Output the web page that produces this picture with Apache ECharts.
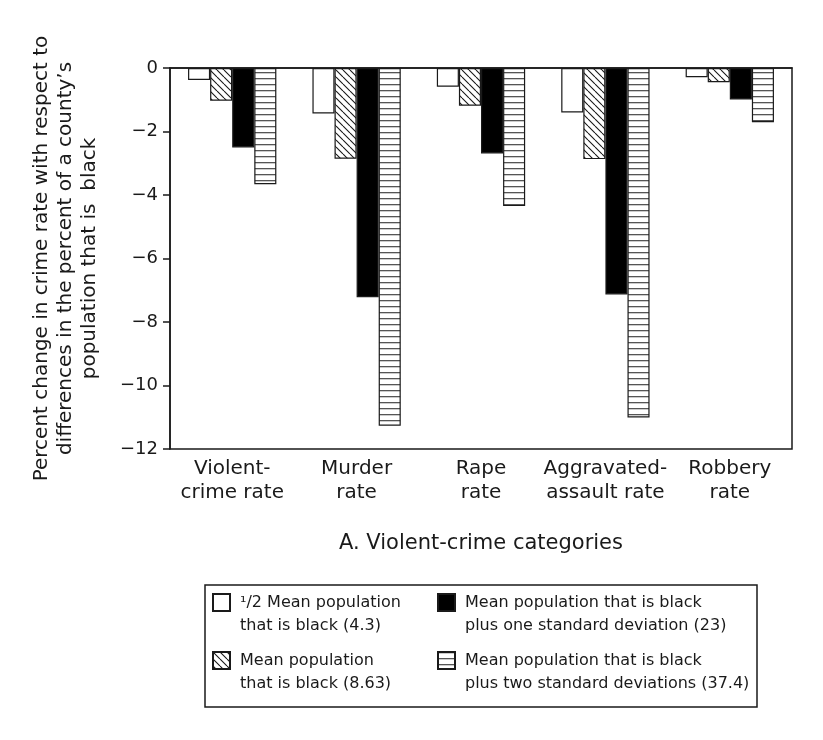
<!DOCTYPE html>
<html>
<head>
<meta charset="utf-8">
<script src="https://cdn.jsdelivr.net/npm/echarts@6/dist/echarts.min.js"></script>
<style>
  html, body { margin: 0; padding: 0; background: #fff; }
  #main { width: 823px; height: 740px; }
</style>
</head>
<body>
<div id="main"></div>
<script>
// categories along the x axis
const categories = [
    'Violent-\ncrime rate',
    'Murder\nrate',
    'Rape\nrate',
    'Aggravated-\nassault rate',
    'Robbery\nrate'
];

// legend names for the four series
const seriesNames = [
    '¹/2 Mean population\nthat is black (4.3)',
    'Mean population\nthat is black (8.63)',
    'Mean population that is black\nplus one standard deviation (23)',
    'Mean population that is black\nplus two standard deviations (37.4)'
];

// percent change values
const halfMean = [-0.38, -1.43, -0.59, -1.40, -0.29];
const meanPop = [-1.03, -2.86, -1.19, -2.87, -0.45];
const plusOneSd = [-2.50, -7.22, -2.69, -7.13, -0.99];
const plusTwoSd = [-3.66, -11.27, -4.35, -11.01, -1.71];

// y axis ticks
const yMin = -12;
const yMax = 0;
const yStep = 2;

const font = 'DejaVu Sans';
const ink = '#1a1a1a';

// hatch fills
function diagonalPattern() {
    const s = 7;
    const c = document.createElement('canvas');
    c.width = s; c.height = s;
    const ctx = c.getContext('2d');
    ctx.fillStyle = '#fff';
    ctx.fillRect(0, 0, s, s);
    ctx.strokeStyle = ink;
    ctx.lineWidth = 1.1;
    ctx.beginPath();
    ctx.moveTo(0, 0); ctx.lineTo(s, s);
    ctx.moveTo(-s, 0); ctx.lineTo(0, s);
    ctx.moveTo(s, 0); ctx.lineTo(2 * s, s);
    ctx.stroke();
    return { image: c, repeat: 'repeat' };
}

function stripePattern() {
    const s = 6;
    const c = document.createElement('canvas');
    c.width = s; c.height = s;
    const ctx = c.getContext('2d');
    ctx.fillStyle = '#fff';
    ctx.fillRect(0, 0, s, s);
    ctx.fillStyle = '#555';
    ctx.fillRect(0, 0, s, 1.3);
    return { image: c, repeat: 'repeat' };
}

const fills = ['#ffffff', diagonalPattern(), '#000000', stripePattern()];
const values = [halfMean, meanPop, plusOneSd, plusTwoSd];

let myChart = echarts.init(document.getElementById('main'));

// legend text sits level with the icon on its first line
function legendBlock(names, left) {
    return {
        data: names,
        orient: 'vertical',
        left: left,
        top: 568,
        padding: 0,
        itemGap: -11,
        itemWidth: 17,
        itemHeight: 17,
        icon: 'rect',
        selectedMode: false,
        formatter: function (name) {
            return '\n' + name;
        },
        textStyle: {
            fontFamily: font,
            fontSize: 16,
            color: ink,
            lineHeight: 23,
            padding: [0, 0, 0, 5]
        }
    };
}

myChart.setOption({
    animation: false,
    textStyle: { fontFamily: font, color: ink },
    grid: {
        left: 170,
        right: 31,
        top: 68,
        bottom: 291,
        show: true,
        borderColor: ink,
        borderWidth: 1.5
    },
    xAxis: {
        type: 'category',
        data: categories,
        name: 'A. Violent-crime categories',
        nameLocation: 'middle',
        nameGap: 84,
        nameTextStyle: { fontSize: 21, color: ink },
        axisLine: { lineStyle: { color: ink, width: 1.5 } },
        axisTick: { length: 12, lineStyle: { color: ink, width: 1.5 } },
        axisLabel: {
            interval: 0,
            fontSize: 20,
            lineHeight: 24,
            color: ink,
            margin: 8
        }
    },
    yAxis: {
        type: 'value',
        min: yMin,
        max: yMax,
        interval: yStep,
        name: 'Percent change in crime rate with respect to\ndifferences in the percent of a county’s\npopulation that is  black',
        nameLocation: 'middle',
        nameRotate: 90,
        nameGap: 68,
        nameTextStyle: { fontSize: 20, lineHeight: 24, color: ink },
        axisLine: { show: true, lineStyle: { color: ink, width: 1.5 } },
        axisTick: { show: true, length: 7, lineStyle: { color: ink, width: 1.5 } },
        splitLine: { show: false },
        axisLabel: {
            fontSize: 18,
            color: ink,
            margin: 12,
            formatter: function (v) {
                return v < 0 ? '−' + Math.abs(v) : String(v);
            }
        }
    },
    legend: [
        legendBlock([seriesNames[0], seriesNames[1]], 212),
        legendBlock([seriesNames[2], seriesNames[3]], 437)
    ],
    graphic: [
        {
            type: 'rect',
            shape: { x: 205, y: 585, width: 552, height: 122 },
            style: { fill: 'none', stroke: ink, lineWidth: 1.5 },
            silent: true
        }
    ],
    series: seriesNames.map(function (name, i) {
        return {
            type: 'bar',
            name: name,
            data: values[i],
            barGap: '0%',
            barCategoryGap: '29%',
            itemStyle: {
                color: fills[i],
                borderColor: ink,
                borderWidth: 1.2
            },
            emphasis: { disabled: true }
        };
    })
});

window.addEventListener('resize', function () {
    myChart.resize();
});
</script>
</body>
</html>
